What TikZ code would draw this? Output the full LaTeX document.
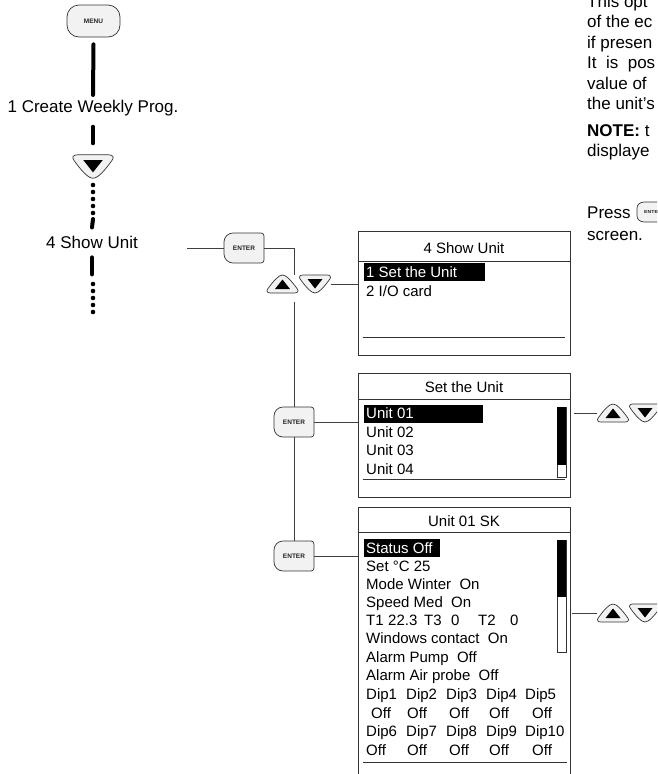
\documentclass[tikz,border=0pt]{standalone}
\usepackage{fontspec}
\setmainfont{Liberation Sans}
\tikzset{
  menutext/.style={font=\fontsize{17}{20}\selectfont, inner sep=0pt, anchor=base},
  partext/.style={font=\fontsize{17}{20}\selectfont, inner sep=0pt, anchor=base west},
  scrtitle/.style={font=\fontsize{15}{18}\selectfont, inner sep=0pt, anchor=base},
  scrtext/.style={font=\fontsize{15}{18}\selectfont, inner sep=0pt, anchor=base west},
  seltext/.style={scrtext, text=white},
  screen/.style={draw=black!80, line width=0.8pt},
  conn/.style={draw=black!75, line width=0.8pt},
  vline/.style={line width=4pt, line cap=round},
  keybox/.style={draw=black!80, fill=black!5, line width=0.7pt},
  keytag/.style={font=\fontsize{6.5}{7}\selectfont\bfseries, inner sep=0pt, minimum width=40pt, minimum height=30pt, text=black!85},
  menukey/.style={keybox, rounded corners=12pt, keytag, minimum width=53pt, minimum height=32pt},
  arrowspot/.style={inner sep=0pt, minimum width=31pt, minimum height=18pt},
}
\newcommand{\enterkey}[3]{%
  \begin{scope}[shift={(#2)},#3]
    \draw[keybox] (20,0) -- (20,12) arc[start angle=0,end angle=90,radius=3] -- (-11,15) arc[start angle=90,end angle=180,radius=9] -- (-20,-6) arc[start angle=180,end angle=270,radius=9] -- (17,-15) arc[start angle=270,end angle=360,radius=3] -- cycle;
    \node[keytag, transform shape] (#1) at (0,0) {ENTER};
  \end{scope}}
\newcommand{\arrowkey}[3]{%
  \begin{scope}[shift={(#2)},#3]
    \draw[keybox] (-12,9) -- (12,9) .. controls (15.5,9) and (16.5,7) .. (14.5,4.5) .. controls (9,-3) and (4,-9) .. (0,-9) .. controls (-4,-9) and (-9,-3) .. (-14.5,4.5) .. controls (-16.5,7) and (-15.5,9) .. (-12,9) -- cycle;
    \fill (-7.5,5) -- (7.5,5) -- (0,-4.5) -- cycle;
  \end{scope}
  \node[arrowspot] (#1) at (#2) {};}
\begin{document}
\begin{tikzpicture}[x=1pt,y=1pt]
\useasboundingbox (0,0) rectangle (657,-774);
\clip (0,0) rectangle (657,-774);
\node[menukey] (menu) at (93.5,-21) {MENU};
\node[menutext] (create) at (93,-112) {1 Create Weekly Prog.};
\arrowkey{downk}{93,-166.5}{scale=1.3}
\node[menutext] (show) at (92,-248) {4 Show Unit};
\coordinate (dotsa) at (93,-219);
\draw[vline] ([yshift=-7pt]menu.south) -- ([yshift=4.5pt]create.north);
\draw[vline] ([yshift=-11pt]create.south) -- ([yshift=14pt]downk.north);
\foreach \y in {185,192,...,213} \fill (93,-\y) circle (2.3);
\draw[vline] (dotsa) -- ([yshift=8pt]show.north);
\draw[vline] ([yshift=-9pt]show.south) -- ++(0,-17);
\foreach \y in {284,291,...,312} \fill (93,-\y) circle (2.3);

\enterkey{enter1}{244,-248}{}
\coordinate (tap) at (187,-248);
\coordinate (ja) at (294,-275);
\coordinate (jb) at (294,-302);
\draw[conn] (tap) -- (enter1.west);
\draw[conn] (enter1.east) -| (ja);
\arrowkey{upa}{282.5,-284}{yscale=-1}
\arrowkey{dna}{315,-284}{}
\node[screen, minimum width=212pt, minimum height=124pt] (scr1) at (464,-293) {};
\draw[conn] (dna.east) -- (scr1.west |- dna);
\draw[screen] ([yshift=-31pt]scr1.north west) -- ([yshift=-31pt]scr1.north east);
\draw[screen] ([xshift=5pt,yshift=18pt]scr1.south west) -- ([xshift=-5pt,yshift=18pt]scr1.south east);
\node[scrtitle] (title1) at (464,-253) {4 Show Unit};
\fill (364,-263) rectangle (485,-281);
\node[seltext] (setunit) at (366,-277) {1 Set the Unit};
\node[scrtext] (iocard) at (366,-296) {2 I/O card};

\enterkey{enter2}{294,-422}{}
\enterkey{enter3}{294,-556}{}
\draw[conn] (jb) -- (enter2.north);
\draw[conn] (enter2.south) -- (enter3.north);
\node[screen, minimum width=212pt, minimum height=124pt] (scr2) at (464,-435) {};
\draw[conn] (enter2.east) -- (scr2.west |- enter2);
\draw[screen] ([yshift=-27pt]scr2.north west) -- ([yshift=-27pt]scr2.north east);
\draw[screen] ([xshift=5pt,yshift=18pt]scr2.south west) -- ([xshift=-5pt,yshift=18pt]scr2.south east);
\node[scrtitle] (title2) at (464,-392) {Set the Unit};
\fill (364,-405) rectangle (483,-423);
\node[seltext] (unit01) at (366,-418) {Unit 01};
\foreach \y/\n in {437/02,455.5/03,474/04} \node[scrtext] (unit\n) at (366,-\y) {Unit \n};
\draw[screen, line width=0.7pt] (557,-407) rectangle (566,-477);
\fill (557,-407) rectangle (566,-465);
\arrowkey{upb}{613,-413}{yscale=-1}
\arrowkey{dnb}{645,-413}{}
\draw[conn, shorten <=4pt] (scr2.east |- upb) -- (upb.west);

\node[screen, minimum width=212pt, minimum height=283pt] (scr3) at (464,-648.5) {};
\draw[conn] (enter3.east) -- (scr3.west |- enter3);
\draw[screen] ([yshift=-26pt]scr3.north west) -- ([yshift=-26pt]scr3.north east);
\draw[screen] (363,-762) -- (567,-762);
\node[scrtitle] (title3) at (464,-526) {Unit 01 SK};
\fill (364,-539) rectangle (440,-557);
\node[seltext] (status) at (366,-553) {Status Off};
\foreach \y/\txt [count=\k] in {571/Set °C 25, 589/Mode Winter~ On, 607/Speed Med~ On, 643.5/Windows contact~ On, 662/Alarm Pump~ Off, 680/Alarm Air probe~ Off}
  \node[scrtext] (item\k) at (366,-\y) {\txt};
\foreach \x/\txt [count=\k] in {366/T1, 388/22.3, 424/T3, 451/0, 478/T2, 510/0}
  \node[scrtext] (temp\k) at (\x,-625) {\txt};
\foreach \x/\n [count=\k] in {366/1, 406/2, 446/3, 486/4, 525/5}
  \node[scrtext] (dipa\k) at (\x,-699) {Dip\n};
\foreach \x [count=\k] in {371, 407, 449, 489, 532}
  \node[scrtext] (offa\k) at (\x,-718) {Off};
\foreach \x/\n [count=\k] in {366/6, 406/7, 446/8, 486/9, 525/10}
  \node[scrtext] (dipb\k) at (\x,-736.5) {Dip\n};
\foreach \x [count=\k] in {366, 407, 449, 489, 532}
  \node[scrtext] (offb\k) at (\x,-755) {Off};
\draw[screen, line width=0.7pt] (557,-540) rectangle (566,-652);
\fill (557,-540) rectangle (566,-597);
\arrowkey{upc}{613,-613}{yscale=-1}
\arrowkey{dnc}{645,-613}{}
\draw[conn, shorten <=2pt] (scr3.east |- upc) -- (upc.west);

\foreach \y/\txt [count=\k] in {7/This opt, 27.5/of the ec, 48/if presen, 68.5/It~ is~ pos, 89/value of, 109.5/the unit's, 136/\textbf{NOTE:} t, 156/displaye, 218/Press, 240/screen.}
  \node[partext] (par\k) at (587,-\y) {\txt};
\enterkey{enter4}{653,-212}{xscale=0.8, yscale=0.667}
\end{tikzpicture}
\end{document}
